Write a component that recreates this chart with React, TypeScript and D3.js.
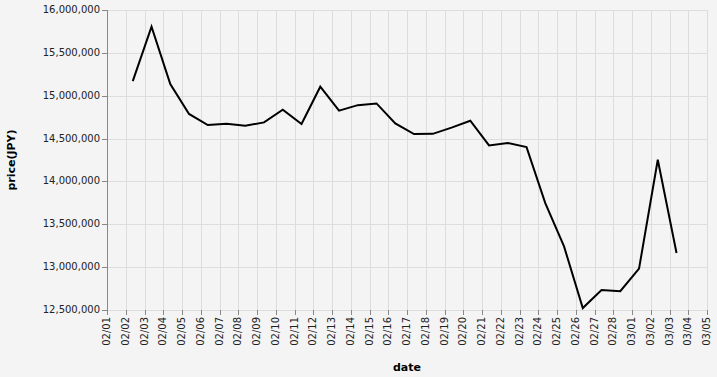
import React from "react";
import * as d3 from "d3";

const dates: string[] = [
  "02/02", "02/03", "02/04", "02/05", "02/06", "02/07", "02/08", "02/09", "02/10", "02/11",
  "02/12", "02/13", "02/14", "02/15", "02/16", "02/17", "02/18", "02/19", "02/20", "02/21",
  "02/22", "02/23", "02/24", "02/25", "02/26", "02/27", "02/28", "03/01", "03/02", "03/03",
];
const prices: number[] = [
  15170000, 15805000, 15137000, 14787000, 14658000, 14674000, 14650000, 14689000, 14837000, 14670000,
  15105000, 14825000, 14890000, 14910000, 14676000, 14553000, 14555000, 14628000, 14708000, 14420000,
  14448000, 14400000, 13748000, 13242000, 12523000, 12733000, 12720000, 12982000, 14253000, 13165000,
];
const yTicks: number[] = [12500000, 13000000, 13500000, 14000000, 14500000, 15000000, 15500000, 16000000];
const xStart = "02/01";
const xEnd = "03/05";
const year = 2021;
const hourOfDay = 9;

const W = 717;
const H = 377;
const margin = { left: 107, top: 10 };
const pw = 600;
const ph = 300;

function parseMD(s: string, hour = 0): Date {
  const [m, d] = s.split("/").map(Number);
  return new Date(year, m - 1, d, hour);
}

export default function App() {
  const x = d3.scaleTime().domain([parseMD(xStart), parseMD(xEnd)]).range([0, pw]);
  const y = d3.scaleLinear().domain([12500000, 16000000]).range([ph, 0]);
  const xTicks = d3.timeDay.range(parseMD(xStart), d3.timeDay.offset(parseMD(xEnd), 1));
  const fmtX = d3.timeFormat("%m/%d");
  const fmtY = d3.format(",");
  const data = dates.map((d, i) => ({ t: parseMD(d, hourOfDay), v: prices[i] }));
  const line = d3
    .line<{ t: Date; v: number }>()
    .x((d) => x(d.t))
    .y((d) => y(d.v));
  const font = "DejaVu Sans, sans-serif";
  const r = (v: number) => Math.round(v) + 0.5;

  return (
    <div style={{ position: "absolute", left: 0, top: 0, width: W, height: H }}>
      <svg width={W} height={H} style={{ display: "block" }} fontFamily={font}>
        <rect x={0} y={0} width={W} height={H} fill="#f4f4f4" />
        <g transform={`translate(${margin.left},${margin.top})`}>
          {/* grid */}
          {xTicks.map((t, i) => (
            <line key={"gx" + i} x1={r(x(t))} x2={r(x(t))} y1={0} y2={ph} stroke="#ddd" strokeWidth={1} />
          ))}
          {yTicks.map((v, i) => (
            <line key={"gy" + i} x1={0} x2={pw} y1={r(y(v))} y2={r(y(v))} stroke="#ddd" strokeWidth={1} />
          ))}
          {/* x axis ticks & labels */}
          {xTicks.map((t, i) => (
            <g key={"xt" + i}>
              <line x1={r(x(t))} x2={r(x(t))} y1={ph} y2={ph + 5} stroke="#888" />
              <text
                transform={`translate(${x(t)},${ph + 7}) rotate(-90)`}
                textAnchor="end"
                dominantBaseline="middle"
                fontSize={10}
                fill="#222"
              >
                {fmtX(t)}
              </text>
            </g>
          ))}
          {/* y axis */}
          <line x1={0.5} x2={0.5} y1={0} y2={ph + 0.5} stroke="#888" />
          {yTicks.map((v, i) => (
            <g key={"yt" + i}>
              <line x1={-5} x2={0} y1={r(y(v))} y2={r(y(v))} stroke="#888" />
              <text x={-7} y={y(v)} textAnchor="end" dominantBaseline="middle" fontSize={10} fill="#222">
                {fmtY(v)}
              </text>
            </g>
          ))}
          {/* line */}
          <path d={line(data) || ""} fill="none" stroke="#000" strokeWidth={2} />
          {/* titles */}
          <text x={pw / 2} y={361} textAnchor="middle" fontSize={11} fontWeight="bold" fill="#000">
            date
          </text>
          <text
            transform={`translate(${-margin.left + 15},${ph / 2}) rotate(-90)`}
            textAnchor="middle"
            fontSize={11}
            fontWeight="bold"
            fill="#000"
          >
            price(JPY)
          </text>
        </g>
      </svg>
    </div>
  );
}
